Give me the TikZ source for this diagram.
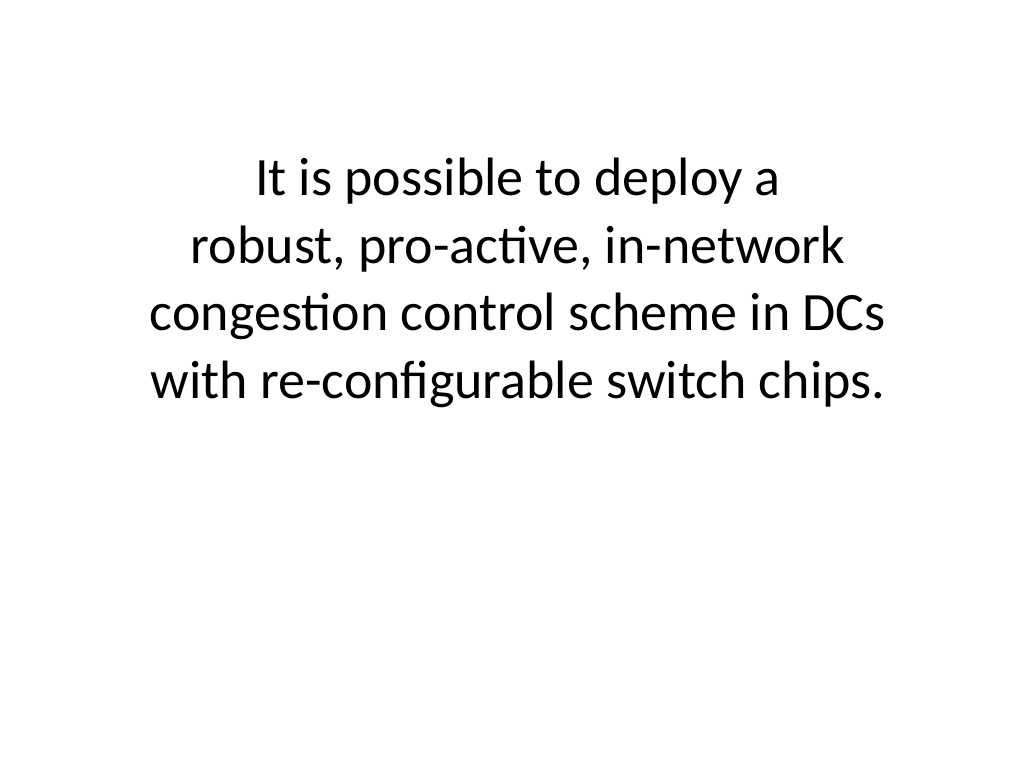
\documentclass[tikz,border=0pt]{standalone}
\usepackage{fontspec}
\setmainfont{Carlito}
\begin{document}
\begin{tikzpicture}[x=1pt,y=1pt,txt/.style={align=center,font=\fontsize{54}{67.5}\selectfont,inner sep=0pt}]
\useasboundingbox (0,0) rectangle (1024,768);
\node[txt] (t) at (518,768-283) {It is possible to deploy a\\robust, pro-active, in-network\\congestion control scheme in DCs\\with re-configurable switch chips.};
\end{tikzpicture}
\end{document}
